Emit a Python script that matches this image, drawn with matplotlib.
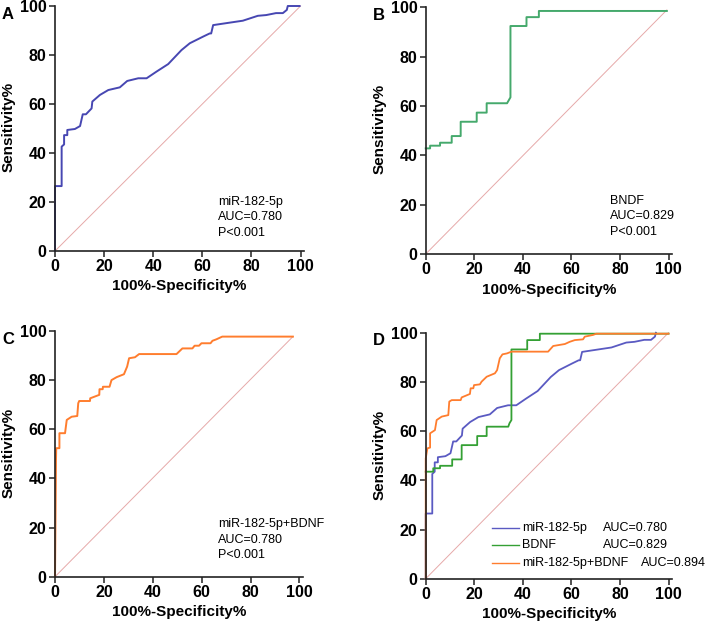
"""ROC curves for miR-182-5p, BDNF and the combined panel."""

import matplotlib

matplotlib.use("Agg")
import matplotlib.pyplot as plt

plt.rcParams["font.family"] = ["Liberation Sans", "DejaVu Sans"]

# panel A: miR-182-5p
mir_x = [0, 0, 2.7, 2.7, 3.7, 3.7, 5.0, 5.0, 8.1, 10.2, 11.3, 12.6, 14.9, 15.2, 18.3, 21.7,
         26.4, 29.4, 33.9, 37.3, 41.3, 46.1, 51.5, 54.9, 60.3, 63.0, 63.6, 64.4, 71.1, 76.5,
         82.6, 86.0, 90.0, 92.8, 94.4, 94.8, 99.6]
mir_y = [0, 26.5, 26.5, 42.6, 43.5, 47.3, 47.3, 49.4, 49.8, 51.0, 55.8, 55.8, 58.2, 61.0, 63.7,
         65.7, 66.8, 69.4, 70.5, 70.5, 73.2, 76.3, 82.0, 84.8, 87.5, 88.8, 88.8, 92.2, 93.2, 94.0,
         96.0, 96.3, 97.1, 97.1, 98.4, 100, 100]

# panel B: BDNF
bdnf_x = [0, 1.8, 1.8, 5.9, 5.9, 10.7, 10.7, 14.4, 14.4, 21.0, 21.0, 25.1, 25.1, 33.5, 34.9,
          34.9, 41.5, 41.5, 46.6, 46.6, 99.3]
bdnf_y = [42.8, 42.8, 43.9, 43.9, 45.1, 45.1, 47.8, 47.8, 53.6, 53.6, 57.3, 57.3, 61.1, 61.1,
          63.5, 92.4, 92.4, 96.0, 96.0, 98.5, 98.5]

# panel C: miR-182-5p + BDNF
comb_x = [0, 0.4, 0.5, 1.8, 1.8, 4.1, 4.8, 6.8, 9.1, 9.5, 9.9, 14.3, 14.4, 18.1, 18.2, 19.5,
          19.6, 22.3, 23.1, 25.2, 28.2, 29.5, 30.3, 32.7, 34.4, 49.7, 52.1, 56.2, 57.1, 58.9,
          59.9, 63.6, 64.4, 66.0, 68.4, 97.3]
comb_y = [0, 47.5, 52.3, 52.3, 58.4, 58.4, 63.8, 65.1, 65.4, 70.6, 71.5, 71.5, 72.6, 74.0, 76.3,
          76.3, 77.3, 77.3, 80.0, 81.2, 82.4, 85.5, 88.9, 89.3, 90.6, 90.6, 92.9, 92.9, 94.0,
          94.0, 95.0, 95.0, 96.0, 96.6, 97.7, 97.7]

# panel D overlay (green and orange as drawn there)
d_bdnf_x = [0, 3.1, 3.1, 5.9, 5.9, 10.9, 10.9, 14.8, 14.8, 21.2, 21.2, 25.1, 25.1, 34.0, 34.5,
            35.3, 35.3, 41.8, 41.8, 47.0, 47.0, 100]
d_bdnf_y = [43.5, 43.5, 44.9, 44.9, 45.9, 45.9, 48.5, 48.5, 54.3, 54.3, 58.0, 58.0, 61.8, 61.8,
            63.2, 64.5, 93.2, 93.2, 97.0, 97.0, 99.6, 99.6]
d_comb_x = [0, 0, 0.7, 1.8, 1.8, 3.8, 4.5, 6.6, 9.3, 9.7, 10.7, 14.4, 14.8, 18.2, 18.5, 19.6,
            19.9, 22.3, 23.0, 25.1, 28.5, 29.4, 30.5, 31.6, 33.5, 35.3, 50.4, 52.5, 57.3, 59.3,
            61.4, 64.8, 65.5, 68.9, 70.3, 100]
d_comb_y = [0, 48.9, 53.0, 53.3, 59.1, 60.4, 64.5, 65.9, 66.5, 72.0, 72.6, 72.6, 73.7, 75.1,
            77.4, 77.4, 78.7, 79.0, 80.1, 82.1, 83.5, 84.8, 89.6, 91.2, 91.6, 92.3, 92.3, 94.6,
            95.4, 96.3, 97.0, 97.3, 98.4, 99.1, 99.6, 99.6]

legend_names = ["miR-182-5p", "BDNF", "miR-182-5p+BDNF"]
legend_auc = ["AUC=0.780", "AUC=0.829", "AUC=0.894"]

BLUE = "#4747b2"
BLUE_D = "#5a5ac2"
GREEN_B = "#45a96c"
GREEN_D = "#34a034"
ORANGE = "#ff7d2e"
DIAG = "#e6a9a9"
TICKS = [0, 20, 40, 60, 80, 100]


def style_axes(ax, letter, fig):
    ax.set_xlim(0, 101.5)
    ax.set_ylim(0, 101)
    ax.spines["top"].set_visible(False)
    ax.spines["right"].set_visible(False)
    ax.spines["left"].set_bounds(0, 100)
    for side in ("left", "bottom"):
        ax.spines[side].set_linewidth(1.2)
        ax.spines[side].set_color("#222222")
    ax.set_xticks(TICKS)
    ax.set_yticks(TICKS)
    ax.tick_params(direction="out", length=4, width=1.1, pad=2, labelsize=11.5, color="#222222")
    for lab in ax.get_xticklabels() + ax.get_yticklabels():
        lab.set_fontweight("bold")
    ax.set_xlabel("100%-Specificity%", fontsize=11, fontweight="bold")
    ax.set_ylabel("Sensitivity%", fontsize=11, fontweight="bold")
    ax.xaxis.set_label_coords(0.5, -0.115)
    ax.yaxis.set_label_coords(-0.16, 0.5)
    pos = ax.get_position()
    fig.text(pos.x0 - 0.075, pos.y1 - 0.005, letter, fontsize=12, fontweight="bold",
             ha="left", va="top")


def note(ax, x, y, lines):
    for i, line in enumerate(lines):
        ax.text(x, y - i * 6.3, line, fontsize=9, ha="left", va="center")


fig = plt.figure(figsize=(7.08, 6.23), dpi=100)
ax_a = fig.add_axes([0.0777, 0.5971, 0.3520, 0.3972])
ax_b = fig.add_axes([0.6013, 0.5923, 0.3481, 0.4000])
ax_c = fig.add_axes([0.0777, 0.0743, 0.3505, 0.3984])
ax_d = fig.add_axes([0.6013, 0.0711, 0.3481, 0.3988])

# A
ax_a.plot([0, 100], [0, 100], color=DIAG, lw=0.7)
ax_a.plot(mir_x, mir_y, color=BLUE, lw=1.4, clip_on=False)
note(ax_a, 66.3, 20.1, ["miR-182-5p", "AUC=0.780", "P<0.001"])
style_axes(ax_a, "A", fig)

# B
ax_b.plot([0, 99.3], [0, 98.9], color=DIAG, lw=0.7)
ax_b.plot(bdnf_x, bdnf_y, color=GREEN_B, lw=1.4, clip_on=False)
note(ax_b, 75.7, 21.5, ["BNDF", "AUC=0.829", "P<0.001"])
style_axes(ax_b, "B", fig)

# C
ax_c.plot([0, 97.3], [0, 97.7], color=DIAG, lw=0.7)
ax_c.plot(comb_x, comb_y, color=ORANGE, lw=1.4, clip_on=False)
note(ax_c, 66.7, 21.3, ["miR-182-5p+BDNF", "AUC=0.780", "P<0.001"])
style_axes(ax_c, "C", fig)

# D
ax_d.plot([0, 100], [0, 100], color=DIAG, lw=0.7)
ax_d.plot(mir_x[:-1], mir_y[:-1], color=BLUE_D, lw=1.3, clip_on=False)
ax_d.plot(d_bdnf_x, d_bdnf_y, color=GREEN_D, lw=1.3, clip_on=False)
ax_d.plot(d_comb_x, d_comb_y, color=ORANGE, lw=1.3, clip_on=False)
d_colors = [BLUE_D, GREEN_D, ORANGE]
auc_x = [72.9, 72.9, 88.8]
for i, (name, auc) in enumerate(zip(legend_names, legend_auc)):
    yy = 20.6 - i * 7.1
    ax_d.plot([27.3, 38.3], [yy, yy], color=d_colors[i], lw=1.0)
    ax_d.text(39.8, yy, name, fontsize=9, ha="left", va="center")
    ax_d.text(auc_x[i], yy, auc, fontsize=9, ha="left", va="center")
style_axes(ax_d, "D", fig)

fig.savefig("out.png", dpi=100)
